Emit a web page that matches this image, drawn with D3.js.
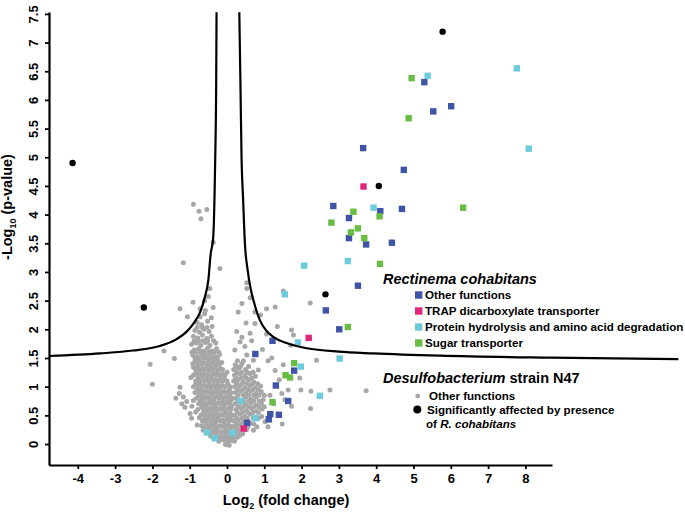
<!DOCTYPE html>
<html><head><meta charset="utf-8">
<script src="https://cdn.jsdelivr.net/npm/d3@7"></script>
<style>
body{margin:0;background:#fff}
svg{display:block}
text{font-family:"Liberation Sans",Arial,sans-serif;font-weight:bold;fill:#000}
</style>
</head><body>
<svg id="chart" width="685" height="514"></svg>
<script>
// ---------- data ----------
const xTicks = [-4,-3,-2,-1,0,1,2,3,4,5,6,7,8];
const yTicks = [0,0.5,1,1.5,2,2.5,3,3.5,4,4.5,5,5.5,6,6.5,7,7.5];

// Desulfobacterium strain N47 – other functions (grey)
const grayOther = [
 [-0.90,4.18],[-0.75,4.06],[-0.54,4.09],[-0.70,3.93],[-0.37,3.52],[-1.17,3.16],[-0.19,3.06],[-0.46,2.71],[-0.50,2.57],[0.53,2.81],[0.53,2.71],
 [-2.06,1.39],[-2.00,1.04],[-1.69,1.62],[-1.41,1.49],[-1.26,2.36],[-1.06,2.22],[-0.91,2.47],
 [-0.60,2.50],[-0.72,2.36],[-0.58,2.33],[-0.37,2.38],[-0.72,2.22],[-0.60,2.27],[-0.42,2.20],
 [-0.80,2.12],[-0.68,2.08],[-0.52,2.14],[-0.40,2.05],
 [-0.86,1.98],[-0.74,1.95],[-0.62,2.00],[-0.48,1.96],
 [-0.90,1.88],[-0.78,1.85],[-0.66,1.90],[-0.54,1.84],[-0.42,1.88],
 [-0.95,1.74],[-0.82,1.76],[-0.70,1.72],[-0.58,1.77],[-0.46,1.72],[-0.30,1.76],
 [-0.88,1.64],[-0.76,1.66],[-0.64,1.62],[-0.52,1.67],[-0.40,1.62],[-0.28,1.66],
 [-0.92,1.55],[-0.80,1.52],[-0.68,1.56],[-0.56,1.53],[-0.44,1.57],[-0.32,1.52],[-0.20,1.56],
 [-0.86,1.44],[-0.74,1.46],[-0.62,1.42],[-0.50,1.47],[-0.38,1.43],[-0.26,1.46],[-0.14,1.42],
 [-0.90,1.34],[-0.78,1.36],[-0.66,1.32],[-0.54,1.37],[-0.42,1.33],[-0.30,1.36],[-0.18,1.32],
 [-0.84,1.24],[-0.72,1.26],[-0.60,1.22],[-0.48,1.27],[-0.36,1.23],[-0.24,1.26],[-0.12,1.22],[0.00,1.25],
 [-0.97,1.16],[-0.78,1.14],[-0.66,1.17],[-0.54,1.13],[-0.42,1.16],[-0.30,1.12],[-0.18,1.16],[-0.06,1.13],
 [-0.84,1.04],[-0.72,1.06],[-0.60,1.02],[-0.48,1.07],[-0.36,1.03],[-0.24,1.06],[-0.12,1.02],[0.02,1.05],
 [-1.26,0.99],[-0.80,0.94],[-0.68,0.96],[-0.56,0.92],[-0.44,0.97],[-0.32,0.93],[-0.20,0.96],[-0.08,0.92],[0.06,0.95],
 [-1.28,0.88],[-1.17,0.82],[-0.76,0.84],[-0.64,0.86],[-0.52,0.82],[-0.40,0.87],[-0.28,0.83],[-0.16,0.86],[-0.04,0.82],[0.08,0.86],
 [-1.37,0.80],[-1.08,0.74],[-0.90,0.76],[-0.72,0.74],[-0.60,0.77],[-0.48,0.73],[-0.36,0.76],[-0.24,0.72],[-0.12,0.75],[0.00,0.73],[0.10,0.76],
 [-1.21,0.70],[-1.13,0.64],[-0.94,0.66],[-0.68,0.64],[-0.56,0.67],[-0.44,0.63],[-0.32,0.66],[-0.20,0.62],[-0.08,0.65],[0.04,0.62],[0.12,0.66],
 [-0.99,0.53],[-0.84,0.56],[-0.64,0.54],[-0.52,0.57],[-0.40,0.53],[-0.28,0.56],[-0.16,0.52],[-0.04,0.55],[0.08,0.53],
 [-0.95,0.45],[-0.74,0.46],[-0.60,0.44],[-0.48,0.47],[-0.36,0.43],[-0.24,0.46],[-0.12,0.42],[0.00,0.45],[0.10,0.43],
 [-0.80,0.33],[-0.68,0.32],[-0.56,0.36],[-0.44,0.33],[-0.32,0.36],[-0.20,0.32],[-0.08,0.35],[0.04,0.33],
 [-0.64,0.24],[-0.50,0.26],[-0.38,0.23],[-0.26,0.26],[-0.14,0.22],[-0.02,0.25],[0.10,0.23],
 [-0.44,0.14],[-0.30,0.16],[-0.18,0.13],[-0.06,0.16],[0.06,0.13],
 [-0.22,0.05],[-0.10,0.07],[0.02,0.04],[0.12,0.06],[-0.04,-0.01],[0.06,-0.02],
 // left arm, in-between rows
 [-0.80,2.03],[-0.66,2.03],[-0.54,2.03],
 [-0.88,1.80],[-0.76,1.80],[-0.64,1.80],[-0.52,1.80],[-0.36,1.80],
 [-0.94,1.60],[-0.82,1.60],[-0.70,1.60],[-0.58,1.60],[-0.46,1.60],[-0.34,1.60],[-0.22,1.60],
 [-0.86,1.50],[-0.74,1.50],[-0.62,1.50],[-0.50,1.50],[-0.38,1.50],[-0.26,1.50],
 [-0.92,1.40],[-0.80,1.40],[-0.68,1.40],[-0.56,1.40],[-0.44,1.40],[-0.32,1.40],[-0.20,1.40],
 [-0.84,1.30],[-0.72,1.30],[-0.60,1.30],[-0.48,1.30],[-0.36,1.30],[-0.24,1.30],[-0.12,1.30],
 [-0.90,1.20],[-0.78,1.20],[-0.66,1.20],[-0.54,1.20],[-0.42,1.20],[-0.30,1.20],[-0.18,1.20],[-0.06,1.20],
 [-0.84,1.10],[-0.72,1.10],[-0.60,1.10],[-0.48,1.10],[-0.36,1.10],[-0.24,1.10],[-0.12,1.10],[0.00,1.10],
 [-0.90,1.00],[-0.78,1.00],[-0.66,1.00],[-0.54,1.00],[-0.42,1.00],[-0.30,1.00],[-0.18,1.00],[-0.06,1.00],[0.08,1.00],
 [-0.86,0.90],[-0.74,0.90],[-0.62,0.90],[-0.50,0.90],[-0.38,0.90],[-0.26,0.90],[-0.14,0.90],[-0.02,0.90],[0.10,0.90],
 [-0.82,0.80],[-0.70,0.80],[-0.58,0.80],[-0.46,0.80],[-0.34,0.80],[-0.22,0.80],[-0.10,0.80],[0.04,0.80],[0.14,0.80],
 [-0.76,0.70],[-0.64,0.70],[-0.52,0.70],[-0.40,0.70],[-0.28,0.70],[-0.16,0.70],[-0.04,0.70],[0.08,0.70],
 [-0.78,0.60],[-0.62,0.60],[-0.50,0.60],[-0.38,0.60],[-0.26,0.60],[-0.14,0.60],[-0.02,0.60],[0.10,0.60],
 [-0.70,0.50],[-0.58,0.50],[-0.46,0.50],[-0.34,0.50],[-0.22,0.50],[-0.10,0.50],[0.04,0.50],[0.14,0.50],
 [-0.66,0.40],[-0.54,0.40],[-0.42,0.40],[-0.30,0.40],[-0.18,0.40],[-0.06,0.40],[0.06,0.40],
 [-0.58,0.30],[-0.46,0.30],[-0.34,0.30],[-0.22,0.30],[-0.10,0.30],[0.02,0.30],[0.12,0.30],
 [-0.40,0.20],[-0.28,0.20],[-0.16,0.20],[-0.04,0.20],[0.08,0.20],
 [-0.36,0.10],[-0.24,0.10],[-0.12,0.10],[0.00,0.10],[0.10,0.10],
 // right arm
 [0.30,2.30],[0.75,2.30],[1.06,2.36],[1.29,2.39],[1.51,2.67],[2.23,2.46],[0.51,2.11],[0.75,2.10],[0.26,1.96],[0.62,1.93],
 [1.06,1.92],[1.73,1.99],[1.78,1.90],[1.71,1.72],[0.35,1.78],[0.48,1.70],[0.21,1.64],[0.53,1.55],[0.71,1.46],[2.40,1.46],
 [1.51,1.38],[1.29,1.28],[0.84,1.29],[0.62,1.23],[0.40,1.86],[0.66,1.80],
 [0.40,2.45],[0.62,2.55],[0.90,2.25],[1.35,2.05],[0.95,1.65],[1.10,1.45],[1.95,1.15],[1.40,1.12],[1.25,0.70],[1.10,0.30],[1.48,0.35],
 [0.22,1.38],[0.40,1.40],[0.18,1.30],[0.32,1.32],[0.50,1.30],
 [0.20,1.20],[0.34,1.22],[0.48,1.18],[0.76,1.18],
 [0.18,1.10],[0.30,1.12],[0.44,1.08],[0.58,1.12],[0.72,1.08],
 [0.20,1.00],[0.34,1.02],[0.48,0.98],[0.62,1.02],[0.76,0.98],[0.90,1.01],
 [0.22,0.90],[0.36,0.92],[0.50,0.88],[0.64,0.92],[0.78,0.88],[0.92,0.91],[1.15,0.85],[1.47,0.88],
 [0.24,0.80],[0.50,0.82],[0.64,0.78],[0.78,0.82],[0.97,0.77],[1.55,0.77],
 [0.22,0.70],[0.36,0.72],[0.50,0.68],[0.64,0.72],[0.78,0.68],[0.92,0.71],
 [0.24,0.60],[0.38,0.62],[0.52,0.58],[0.66,0.62],[0.80,0.58],[0.94,0.61],
 [0.20,0.50],[0.34,0.52],[0.48,0.48],[0.62,0.52],[0.93,0.48],
 [0.18,0.40],[0.30,0.42],[0.44,0.38],[0.62,0.36],[1.02,0.39],
 [0.16,0.30],[0.28,0.32],[0.40,0.28],[0.56,0.30],[0.80,0.30],
 [0.18,0.20],[0.30,0.22],[0.42,0.18],[0.71,0.24],[0.16,0.10],[0.28,0.12],
 [0.28,1.45],[0.44,1.45],[0.26,1.35],[0.36,1.35],[0.58,1.35],
 [0.26,1.25],[0.40,1.25],[0.54,1.25],[0.70,1.25],
 [0.24,1.15],[0.38,1.15],[0.52,1.15],[0.66,1.15],
 [0.26,1.05],[0.40,1.05],[0.54,1.05],[0.68,1.05],[0.82,1.05],
 [0.28,0.95],[0.42,0.95],[0.56,0.95],[0.70,0.95],[0.84,0.95],
 [0.30,0.85],[0.44,0.85],[0.58,0.85],[0.72,0.85],[0.86,0.85],[1.00,0.85],
 [0.30,0.75],[0.44,0.75],[0.58,0.75],[0.72,0.75],[0.86,0.75],
 [0.30,0.65],[0.44,0.65],[0.58,0.65],[0.72,0.65],[0.86,0.65],[1.00,0.65],
 [0.28,0.55],[0.42,0.55],[0.56,0.55],[0.70,0.55],[0.84,0.55],
 [0.26,0.45],[0.40,0.45],[0.54,0.45],[0.70,0.45],[0.84,0.45],
 [0.24,0.35],[0.36,0.35],[0.50,0.35],[0.72,0.35],
 [0.24,0.25],[0.36,0.25],[0.52,0.25],[0.22,0.15],[0.34,0.15],[0.20,0.05],
 // scattered right
 [1.98,0.94],[2.25,0.92],[2.76,0.94],[3.73,0.93],[1.73,0.66],[2.24,0.62],[1.64,0.94],[1.20,1.50]
];
// Desulfobacterium strain N47 – significantly affected (black)
const blackSig = [[-4.14,4.90],[-2.23,2.38],[5.78,7.19],[4.07,4.50],[2.64,2.61]];

// Rectinema cohabitans
const rcOther = [[5.29,6.31],[6.01,5.89],[5.53,5.80],[3.65,5.16],[4.74,4.78],[2.85,4.15],[4.11,4.06],[4.69,4.10],[3.27,3.94],[3.27,3.59],[3.73,3.48],[4.42,3.51],[3.51,2.76],[2.65,2.33],[3.01,2.00],[1.22,1.80],[0.76,1.57],[1.80,1.28],[1.31,1.02],[1.64,0.75],[1.16,0.52],[1.39,0.51],[1.12,0.43],[0.54,0.37]];
const rcTrap = [[3.66,4.49],[2.19,1.85],[0.45,0.27]];
const rcProtein = [[5.38,6.42],[7.77,6.55],[8.09,5.15],[3.93,4.12],[3.24,3.19],[2.07,3.11],[1.55,2.61],[1.90,1.77],[3.02,1.49],[1.98,1.35],[2.49,0.84],[0.37,0.75],[0.76,0.45],[0.15,0.19],[-0.54,0.20],[-0.33,0.10]];
const rcSugar = [[4.95,6.38],[4.87,5.68],[6.33,4.12],[3.39,4.05],[4.09,3.97],[2.80,3.86],[3.51,3.76],[3.32,3.69],[3.68,3.59],[4.10,3.14],[3.24,2.04],[1.80,1.41],[1.57,1.20],[1.69,1.16],[1.22,0.73]];

// significance threshold curve
const thresholdLeft = [[-4.77,1.535],[-3.40,1.58],[-2.52,1.63],[-1.80,1.71],[-1.35,1.83],[-1.08,1.96],[-0.90,2.10],[-0.72,2.30],[-0.59,2.57],[-0.50,2.86],[-0.44,3.30],[-0.37,3.60],[-0.32,4.83],[-0.29,6.29],[-0.28,7.53]];
const thresholdRight = [[0.33,7.53],[0.36,6.30],[0.39,5.00],[0.43,4.30],[0.48,3.50],[0.55,3.05],[0.63,2.72],[0.72,2.48],[0.88,2.16],[1.05,1.98],[1.24,1.87],[1.60,1.76],[2.14,1.67],[3.00,1.61],[3.92,1.58],[5.71,1.54],[8.66,1.505],[12.1,1.48]];

const rcLabels = ["Other functions","TRAP dicarboxylate transporter","Protein hydrolysis and amino acid degradation","Sugar transporter"];
const rcColors = ["#3f54a6","#e2267c","#6ecbdb","#69bd45"];

// ---------- drawing ----------
const svg = d3.select("#chart");
const x = d3.scaleLinear().domain([-4.772, 8.713]).range([49, 552]);
const y = d3.scaleLinear().domain([-0.366, 7.533]).range([465, 12]);

// grey points
svg.append("g").selectAll("circle").data(grayOther).join("circle")
  .attr("cx", d => x(d[0])).attr("cy", d => y(d[1])).attr("r", 2.5).attr("fill", "#a7a7a7");

// Rectinema squares
const sq = 6.4;
[rcOther, rcTrap, rcProtein, rcSugar].forEach((set, i) => {
  svg.append("g").selectAll("rect").data(set).join("rect")
    .attr("x", d => x(d[0]) - sq/2).attr("y", d => y(d[1]) - sq/2)
    .attr("width", sq).attr("height", sq).attr("fill", rcColors[i]);
});

// black points
svg.append("g").selectAll("circle").data(blackSig).join("circle")
  .attr("cx", d => x(d[0])).attr("cy", d => y(d[1])).attr("r", 3.2).attr("fill", "#000");

// threshold curves
const line = d3.line().x(d => x(d[0])).y(d => y(d[1])).curve(d3.curveMonotoneX);
[thresholdLeft, thresholdRight].forEach(c => {
  svg.append("path").attr("d", line(c)).attr("fill", "none").attr("stroke", "#000").attr("stroke-width", 2.2);
});

// axes
const gx = svg.append("g").attr("transform", "translate(0,465)")
  .call(d3.axisBottom(x).tickValues(xTicks).tickSize(4).tickSizeOuter(0).tickFormat(d => String(d)));
const gy = svg.append("g").attr("transform", "translate(49,0)")
  .call(d3.axisLeft(y).tickValues(yTicks).tickSize(4).tickSizeOuter(0).tickFormat(d => String(d)));
[gx, gy].forEach(g => {
  g.select(".domain").attr("stroke", "#000").attr("stroke-width", 2.2);
  g.selectAll(".tick line").attr("stroke", "#000").attr("stroke-width", 1.8);
  g.selectAll(".tick text").attr("font-size", 13).attr("font-family", "Liberation Sans, Arial, sans-serif").attr("font-weight", "bold").attr("fill", "#000");
});
gx.selectAll(".tick text").attr("y", 9).attr("dy", "0.71em");
gy.selectAll(".tick text")
  .attr("x", 0).attr("y", 0).attr("dy", "0.36em").attr("text-anchor", "middle")
  .attr("transform", "translate(-16,0) rotate(-90)");

// axis titles
const xt = svg.append("text").attr("x", 286).attr("y", 505).attr("text-anchor", "middle").attr("font-size", 14.5);
xt.append("tspan").text("Log");
xt.append("tspan").attr("font-size", 9).attr("dy", 4).text("2");
xt.append("tspan").attr("dy", -4).text(" (fold change)");

const yt = svg.append("text").attr("transform", "translate(12,207) rotate(-90)").attr("text-anchor", "middle").attr("font-size", 14.5);
yt.append("tspan").text("-Log");
yt.append("tspan").attr("font-size", 9).attr("dy", 4).text("10");
yt.append("tspan").attr("dy", -4).text(" (p-value)");

// legend – Rectinema cohabitans
svg.append("text").attr("x", 383).attr("y", 284).attr("font-size", 14.5).attr("font-style", "italic").text("Rectinema cohabitans");
const lg = svg.append("g");
rcLabels.forEach((lab, i) => {
  const cy = 295 + i * 16;
  lg.append("rect").attr("x", 415).attr("y", cy - 3.7).attr("width", 7.4).attr("height", 7.4).attr("fill", rcColors[i]);
  lg.append("text").attr("x", 425).attr("y", cy + 4.2).attr("font-size", 11.6).text(lab);
});

// legend – Desulfobacterium
const dt = svg.append("text").attr("x", 383).attr("y", 382.5).attr("font-size", 14.5);
dt.append("tspan").attr("font-style", "italic").text("Desulfobacterium");
dt.append("tspan").text(" strain N47");
svg.append("circle").attr("cx", 417.7).attr("cy", 396).attr("r", 2.4).attr("fill", "#a7a7a7");
svg.append("text").attr("x", 429).attr("y", 400).attr("font-size", 11.6).text("Other functions");
svg.append("circle").attr("cx", 417.3).attr("cy", 409.5).attr("r", 4).attr("fill", "#000");
svg.append("text").attr("x", 427).attr("y", 414).attr("font-size", 11.6).text("Significantly affected by presence");
const ot = svg.append("text").attr("x", 426).attr("y", 428.3).attr("font-size", 11.6);
ot.append("tspan").text("of ");
ot.append("tspan").attr("font-style", "italic").text("R. cohabitans");
</script>
</body></html>
